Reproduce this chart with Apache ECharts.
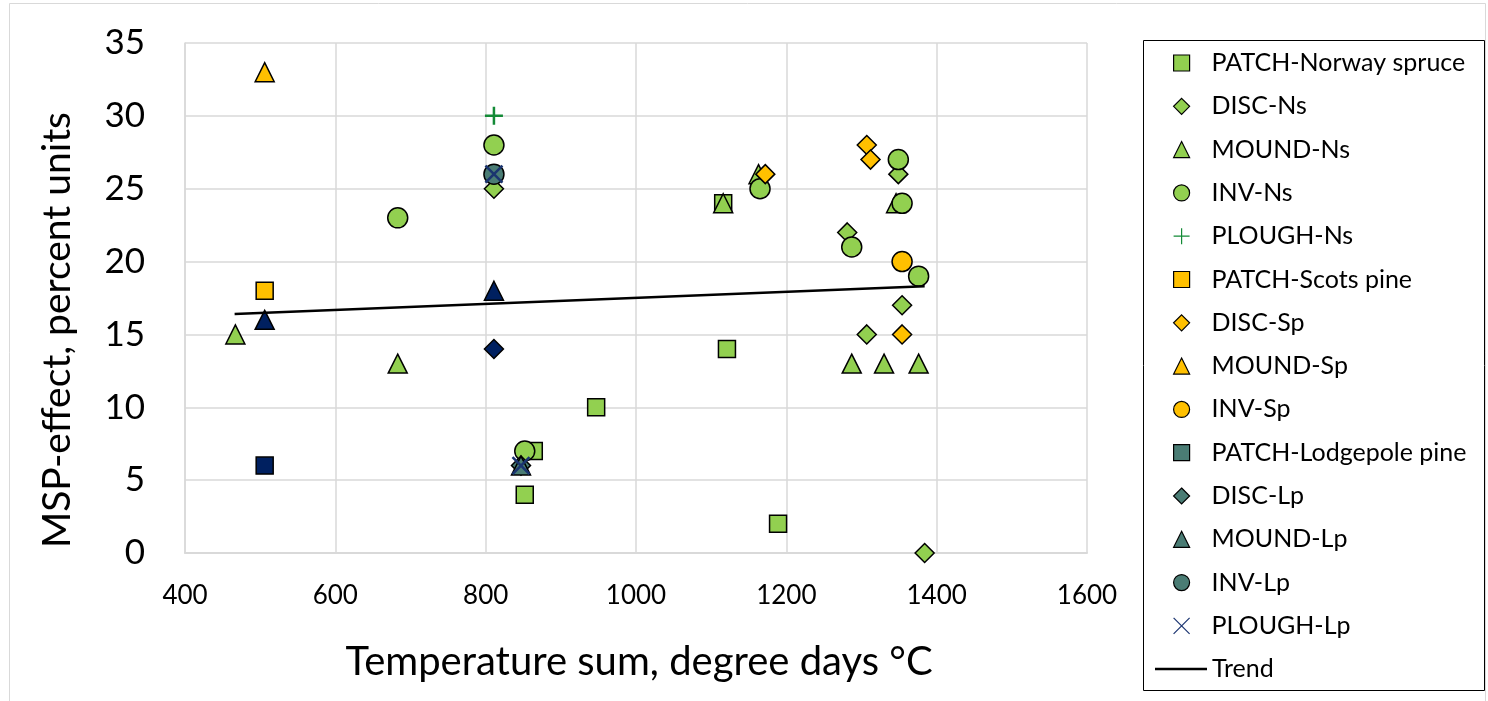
<!DOCTYPE html>
<html>
<head>
<meta charset="utf-8">
<script src="https://cdn.jsdelivr.net/npm/echarts@6/dist/echarts.min.js"></script>
<style>
  html, body { margin: 0; padding: 0; background: #fff; }
  #chart { width: 1488px; height: 701px; }
</style>
</head>
<body>
<div id="chart"></div>
<script>
// Temperature sum (x) vs MSP-effect (y).
const patchNs  = [[1116, 24], [1121, 14], [947, 10], [864, 7], [852, 4], [1189, 2]];
const discNs   = [[811, 25], [1281, 22], [1349, 26], [1354, 17], [1307, 15], [1384, 0]];
const moundNs  = [[467, 15], [683, 13], [1116, 24], [1163, 26], [1346, 24], [1287, 13], [1330, 13], [1376, 13]];
const invNs    = [[683, 23], [811, 28], [852, 7], [1165, 25], [1349, 27], [1354, 24], [1287, 21], [1376, 19]];
const ploughNs = [[811, 30]];
const patchSp  = [[506, 18]];
const discSp   = [[1172, 26], [1307, 28], [1312, 27], [1354, 15]];
const moundSp  = [[506, 33]];
const invSp    = [[1354, 20]];
const patchLp  = [];
const discLp   = [[847, 6]];
const moundLp  = [[847, 6]];
const invLp    = [[811, 26]];
const ploughLp = [[811, 26], [847, 6]];
// dark blue points that have no legend entry
const patchX   = [[506, 6]];
const discX    = [[811, 14]];
const moundX   = [[506, 16], [811, 18]];
// trend line end points
const trendX = [466, 1384];
const trendY = [16.4, 18.3];

const xTicks = { min: 400, max: 1600, step: 200 };
const yTicks = { min: 0, max: 35, step: 5 };

const FONT = 'Lato';
const GREEN = '#92D050', ORANGE = '#FFC000', TEAL = '#4A7C74', NAVY = '#002060';
const PLUS = 'path://M10,0L10,20M0,10L20,10';
const CROSS = 'path://M0,0L20,20M20,0L0,20';

function sc(name, data, symbol, size, color, line) {
  const style = line
    ? { color: 'rgba(0,0,0,0)', borderColor: color, borderWidth: 2.5, opacity: 1 }
    : { color: color, borderColor: '#000', borderWidth: 1.5, opacity: 1 };
  return { type: 'scatter', name, data, symbol, symbolSize: size, itemStyle: style,
           emphasis: { disabled: true }, animation: false };
}

const series = [
  sc('PATCH-Norway spruce', patchNs, 'rect', 17, GREEN),
  sc('DISC-Ns', discNs, 'diamond', 19, GREEN),
  sc('MOUND-Ns', moundNs, 'triangle', 19, GREEN),
  sc('INV-Ns', invNs, 'circle', 20, GREEN),
  sc('PLOUGH-Ns', ploughNs, PLUS, 18, '#138A36', true),
  sc('PATCH-Scots pine', patchSp, 'rect', 17, ORANGE),
  sc('DISC-Sp', discSp, 'diamond', 19, ORANGE),
  sc('MOUND-Sp', moundSp, 'triangle', 19, ORANGE),
  sc('INV-Sp', invSp, 'circle', 20, ORANGE),
  sc('PATCH-Lodgepole pine', patchLp, 'rect', 17, TEAL),
  sc('DISC-Lp', discLp, 'diamond', 19, TEAL),
  sc('MOUND-Lp', moundLp, 'triangle', 19, TEAL),
  sc('INV-Lp', invLp, 'circle', 20, TEAL),
  sc('PATCH-other', patchX, 'rect', 17, NAVY),
  sc('DISC-other', discX, 'diamond', 19, NAVY),
  sc('MOUND-other', moundX, 'triangle', 19, NAVY),
  sc('PLOUGH-Lp', ploughLp, CROSS, 17, '#1A3470', true),
  {
    type: 'line', name: 'Trend', data: trendX.map((x, i) => [x, trendY[i]]),
    symbol: 'none', itemStyle: { color: '#000' }, lineStyle: { color: '#000', width: 2.5 },
    animation: false, z: 3
  }
];

const legendNames = ['PATCH-Norway spruce', 'DISC-Ns', 'MOUND-Ns', 'INV-Ns', 'PLOUGH-Ns',
  'PATCH-Scots pine', 'DISC-Sp', 'MOUND-Sp', 'INV-Sp', 'PATCH-Lodgepole pine',
  'DISC-Lp', 'MOUND-Lp', 'INV-Lp', 'PLOUGH-Lp'];

const legendText = { fontSize: 25, lineHeight: 30, color: '#000', fontFamily: FONT };

const chart = echarts.init(document.getElementById('chart'), null, { renderer: 'canvas' });
chart.setOption({
  backgroundColor: '#fff',
  textStyle: { fontFamily: FONT },
  grid: { left: 185, right: 401, top: 43, bottom: 148, containLabel: false },
  xAxis: {
    type: 'value', min: xTicks.min, max: xTicks.max, interval: xTicks.step,
    axisLine: { show: true, lineStyle: { color: '#D9D9D9', width: 2 } },
    axisTick: { show: false },
    splitLine: { lineStyle: { color: '#D9D9D9', width: 1.5 } },
    axisLabel: { fontSize: 26, color: '#000', margin: 30, fontFamily: FONT, formatter: v => String(v) }
  },
  yAxis: {
    type: 'value', min: yTicks.min, max: yTicks.max, interval: yTicks.step,
    axisLine: { show: true, lineStyle: { color: '#D9D9D9', width: 1.5 } },
    axisTick: { show: false },
    splitLine: { lineStyle: { color: '#D9D9D9', width: 1.5 } },
    axisLabel: { fontSize: 35, color: '#000', margin: 40, fontFamily: FONT }
  },
  legend: [
    {
      data: legendNames, orient: 'vertical', left: 1173, top: 48, padding: 0,
      itemWidth: 16, itemHeight: 16, itemGap: 13.3,
      itemStyle: { borderWidth: 1.2 },
      textStyle: Object.assign({ padding: [0, 0, 0, 17] }, legendText),
      selectedMode: false
    },
    {
      data: [{ name: 'Trend', icon: 'path://M0,0L52,0L52,2.5L0,2.5Z' }],
      orient: 'vertical', left: 1155, top: 654, padding: 0,
      itemWidth: 52, itemHeight: 16,
      itemStyle: { color: '#000', borderWidth: 0 },
      textStyle: legendText, selectedMode: false
    }
  ],
  graphic: [
    { type: 'rect', shape: { x: 9.5, y: 3.5, width: 1476, height: 700 }, silent: true,
      style: { fill: 'none', stroke: '#D9D9D9', lineWidth: 1 } },
    { type: 'rect', shape: { x: 1143.5, y: 40.5, width: 341, height: 650 }, silent: true,
      style: { fill: 'none', stroke: '#000', lineWidth: 1 } },
    { type: 'text', silent: true, x: 639, y: 662,
      style: { text: 'Temperature sum, degree days °C', align: 'center',
               verticalAlign: 'middle', fontSize: 40, fontFamily: FONT, fill: '#000' } },
    { type: 'text', silent: true, rotation: Math.PI / 2, x: 57, y: 330,
      style: { text: 'MSP-effect, percent units', align: 'center',
               verticalAlign: 'middle', fontSize: 39, fontFamily: FONT, fill: '#000' } }
  ],
  series
});
</script>
</body>
</html>
